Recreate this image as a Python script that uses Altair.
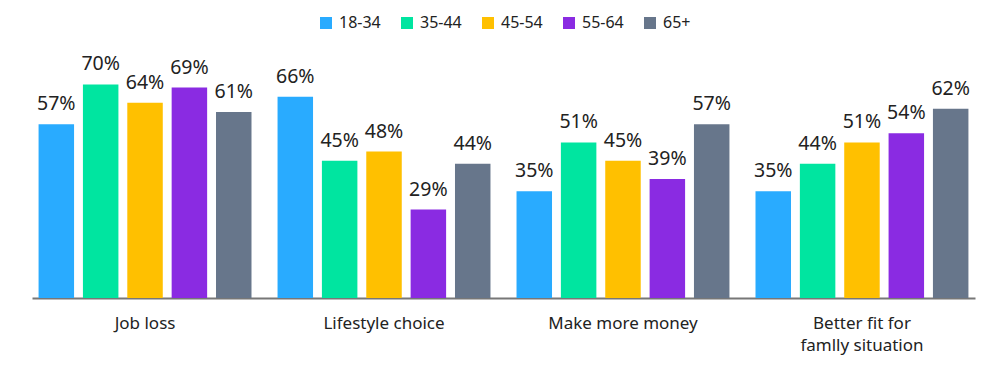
import altair as alt
import pandas as pd

categories = ["Job loss", "Lifestyle choice", "Make more money", "Better fit for|famlly situation"]
groups = ["18-34", "35-44", "45-54", "55-64", "65+"]
colors = ["#29ABFF", "#00E5A0", "#FFC000", "#8A2BE2", "#67768B"]
values = {
    "18-34": [57, 66, 35, 35],
    "35-44": [70, 45, 51, 44],
    "45-54": [64, 48, 45, 51],
    "55-64": [69, 29, 39, 54],
    "65+": [61, 44, 57, 62],
}

rows = []
for g in groups:
    for c, v in zip(categories, values[g]):
        rows.append({"category": c, "group": g, "value": v, "label": f"{v}%"})
df = pd.DataFrame(rows)

FONT = "Noto Sans"

x = alt.X("category:N", sort=categories,
          scale=alt.Scale(paddingInner=0.109, paddingOuter=0.0275),
          axis=alt.Axis(title=None, ticks=False, domainColor="#777777", domainWidth=2,
                        labelAngle=0, labelFontSize=17, labelColor="#222222", labelFont=FONT,
                        labelPadding=17, labelLineHeight=22,
                        labelExpr="split(datum.label, '|')"))
xo = alt.XOffset("group:N", sort=groups, scale=alt.Scale(paddingInner=0.2))
y = alt.Y("value:Q", scale=alt.Scale(domain=[0, 81.3], nice=False), axis=None)

base = alt.Chart(df).encode(x=x, xOffset=xo, y=y)

bars = base.mark_bar().encode(
    color=alt.Color("group:N", sort=groups,
                    scale=alt.Scale(domain=groups, range=colors),
                    legend=alt.Legend(title=None, orient="none", direction="horizontal",
                                      legendX=286, legendY=-35, symbolType="square",
                                      symbolSize=144, symbolStrokeWidth=0,
                                      labelFontSize=16, labelFont=FONT, labelColor="#222222",
                                      labelOffset=5, columnPadding=18))
)
text = base.mark_text(baseline="alphabetic", dy=-14, fontSize=19.5, font=FONT, color="#222222").encode(
    text="label:N"
)

chart = (bars + text).properties(
    width=943, height=248,
    background="white",
    autosize=alt.AutoSizeParams(type="none"),
    padding={"left": 32, "top": 50, "right": 20, "bottom": 77},
).configure_view(stroke=None)

chart.save("out.html", embed_options={"renderer": "svg", "actions": False})
